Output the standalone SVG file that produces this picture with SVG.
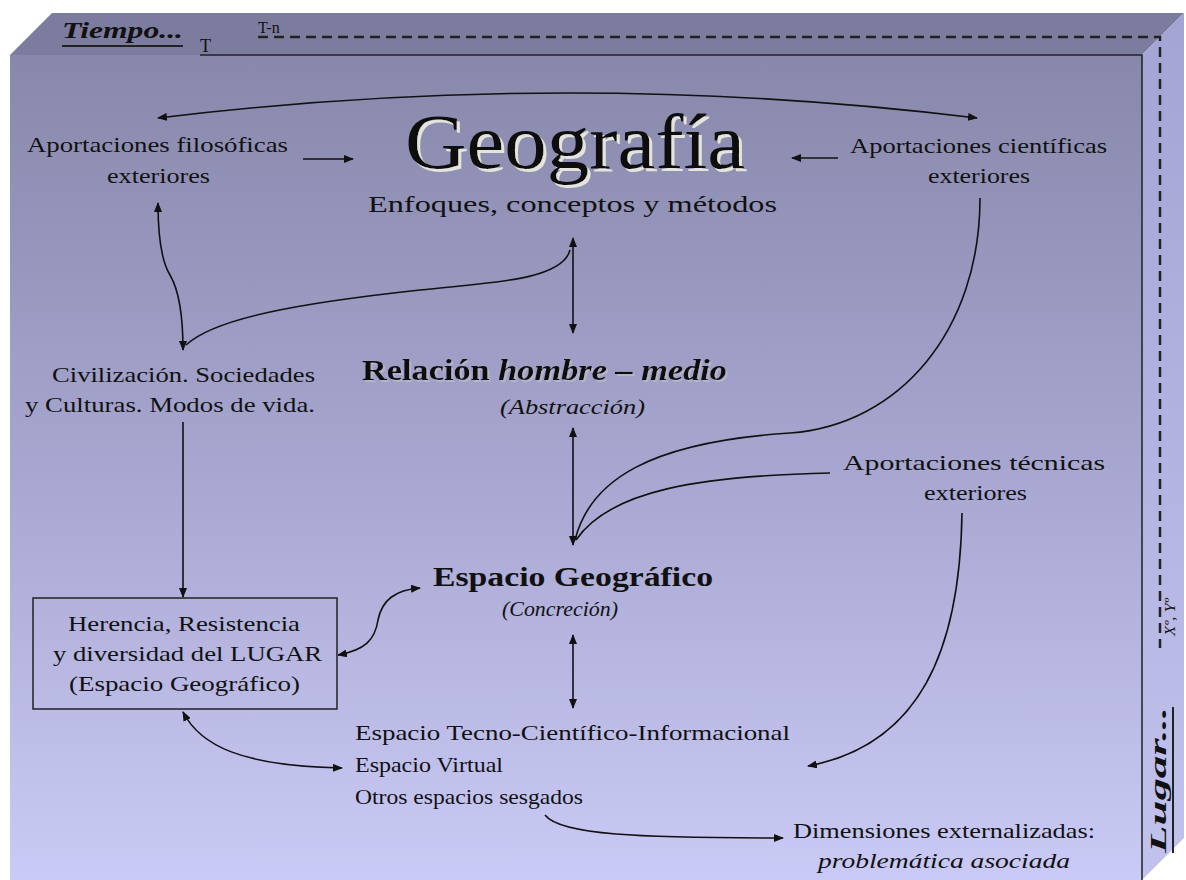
<svg xmlns="http://www.w3.org/2000/svg" width="1186" height="880" viewBox="0 0 1186 880">
<defs>
<linearGradient id="gFront" x1="0" y1="0" x2="0" y2="1">
<stop offset="0" stop-color="#8888ab"/>
<stop offset="0.5" stop-color="#a6a6d0"/>
<stop offset="1" stop-color="#cacaf6"/>
</linearGradient>
<linearGradient id="gRight" x1="0" y1="0" x2="0" y2="1">
<stop offset="0" stop-color="#a4a4d4"/>
<stop offset="1" stop-color="#c2c2ee"/>
</linearGradient>
<filter id="shLight" x="-5%" y="-20%" width="110%" height="140%">
<feOffset in="SourceAlpha" dx="2.5" dy="2.5" result="o"/>
<feFlood flood-color="#e4e4dc"/>
<feComposite in2="o" operator="in" result="s"/>
<feMerge><feMergeNode in="s"/><feMergeNode in="SourceGraphic"/></feMerge>
</filter>
<filter id="shGray" x="-5%" y="-20%" width="110%" height="140%">
<feOffset in="SourceAlpha" dx="2" dy="2" result="o"/>
<feFlood flood-color="#b4b4c8"/>
<feComposite in2="o" operator="in" result="s"/>
<feMerge><feMergeNode in="s"/><feMergeNode in="SourceGraphic"/></feMerge>
</filter>
<marker id="ah" viewBox="0 0 10 8" refX="9" refY="4" markerWidth="10" markerHeight="8" markerUnits="userSpaceOnUse" orient="auto-start-reverse">
<path d="M0,0 L10,4 L0,8 z" fill="#111"/>
</marker>
</defs>
<style>
.t{font-family:"Liberation Serif","Times New Roman",serif;fill:#111;}
.c{fill:none;stroke:#111;stroke-width:1.6;}
.b{marker-start:url(#ah);marker-end:url(#ah);}
.e{marker-end:url(#ah);}
</style>
<rect width="1186" height="880" fill="#ffffff"/>
<g id="box">
<polygon points="10,55 52,13 1184,13 1142,55" fill="#7c7c9e"/>
<rect x="10" y="55" width="1132" height="825" fill="url(#gFront)"/>
<polygon points="1142,55 1184,13 1184,838 1142,880" fill="url(#gRight)"/>
<polyline points="200,55 1142,55 1142,880" fill="none" stroke="#222" stroke-width="1.5"/>
<polyline points="258,37 1160,37 1160,648" fill="none" stroke="#222" stroke-width="2.5" stroke-dasharray="10,6"/>
</g>
<g id="axes">
<text class="t" x="62" y="38" font-size="24" font-weight="bold" font-style="italic" textLength="121" lengthAdjust="spacingAndGlyphs">Tiempo...</text>
<line x1="62" y1="46" x2="183" y2="46" stroke="#222" stroke-width="2"/>
<text class="t" x="200" y="52" font-size="18">T</text>
<text class="t" x="258" y="33" font-size="16">T-n</text>
<text class="t" transform="translate(1166,853) rotate(-90)" font-size="23" font-weight="bold" font-style="italic" textLength="146" lengthAdjust="spacingAndGlyphs">Lugar...</text>
<line x1="1173" y1="853" x2="1173" y2="707" stroke="#222" stroke-width="2"/>
<text class="t" transform="translate(1175,636) rotate(-90)" font-size="15" font-style="italic" textLength="38" lengthAdjust="spacingAndGlyphs">Xº, Yº</text>
</g>
<g id="connectors">
<path class="c b" d="M977,118 Q570,68 158,118"/>
<path class="c e" d="M303,159 L353,159"/>
<path class="c e" d="M838,158 L792,158"/>
<path class="c b" d="M158,203 C158,240 162,262 170,275 C180,292 183,320 183,350"/>
<path class="c" d="M570,250 C562,282 480,283 420,290 C300,303 215,318 186,345"/>
<path class="c b" d="M573,238 L573,333"/>
<path class="c b" d="M573,428 L573,545"/>
<path class="c" d="M980,198 C980,330 900,425 790,433 C650,442 590,480 575,540"/>
<path class="c" d="M830,473 C700,476 610,490 576,540"/>
<path class="c e" d="M962,513 C960,650 920,745 808,766"/>
<path class="c b" d="M338,655 C365,650 375,640 378,620 C382,600 395,590 420,588"/>
<path class="c e" d="M183,422 L183,597"/>
<path class="c b" d="M573,635 L573,708"/>
<path class="c b" d="M183,712 C200,745 240,766 342,768"/>
<path class="c e" d="M545,815 C560,835 640,838 783,838"/>
</g>
<g id="geografia">
<text class="t" x="405" y="168" font-size="78" textLength="340" lengthAdjust="spacingAndGlyphs" filter="url(#shLight)">Geografía</text>
<text class="t" x="368" y="212" font-size="23" textLength="409" lengthAdjust="spacingAndGlyphs">Enfoques, conceptos y métodos</text>
</g>
<g id="filosoficas">
<text class="t" x="27" y="152" font-size="21" textLength="261" lengthAdjust="spacingAndGlyphs">Aportaciones filosóficas</text>
<text class="t" x="107" y="183" font-size="21" textLength="103" lengthAdjust="spacingAndGlyphs">exteriores</text>
</g>
<g id="cientificas">
<text class="t" x="850" y="153" font-size="21" textLength="257" lengthAdjust="spacingAndGlyphs">Aportaciones científicas</text>
<text class="t" x="928" y="183" font-size="21" textLength="102" lengthAdjust="spacingAndGlyphs">exteriores</text>
</g>
<g id="civilizacion">
<text class="t" x="52" y="382" font-size="21" textLength="263" lengthAdjust="spacingAndGlyphs">Civilización. Sociedades</text>
<text class="t" x="25" y="412" font-size="21" textLength="290" lengthAdjust="spacingAndGlyphs">y Culturas. Modos de vida.</text>
</g>
<g id="relacion">
<text class="t" x="362" y="380" font-size="30" font-weight="bold" textLength="365" lengthAdjust="spacingAndGlyphs" filter="url(#shGray)">Relación <tspan font-style="italic">hombre – medio</tspan></text>
<text class="t" x="500" y="414" font-size="21" font-style="italic" textLength="145" lengthAdjust="spacingAndGlyphs">(Abstracción)</text>
</g>
<g id="tecnicas">
<text class="t" x="843" y="470" font-size="21" textLength="262" lengthAdjust="spacingAndGlyphs">Aportaciones técnicas</text>
<text class="t" x="924" y="500" font-size="21" textLength="103" lengthAdjust="spacingAndGlyphs">exteriores</text>
</g>
<g id="espacio">
<text class="t" x="433" y="586" font-size="28" font-weight="bold" textLength="280" lengthAdjust="spacingAndGlyphs">Espacio Geográfico</text>
<text class="t" x="502" y="616" font-size="21" font-style="italic" textLength="116" lengthAdjust="spacingAndGlyphs">(Concreción)</text>
</g>
<g id="herencia">
<rect x="33" y="598" width="304" height="111" fill="none" stroke="#222" stroke-width="1.5"/>
<text class="t" x="68" y="631" font-size="21" textLength="232" lengthAdjust="spacingAndGlyphs">Herencia, Resistencia</text>
<text class="t" x="53" y="661" font-size="21" textLength="269" lengthAdjust="spacingAndGlyphs">y diversidad del LUGAR</text>
<text class="t" x="69" y="691" font-size="21" textLength="231" lengthAdjust="spacingAndGlyphs">(Espacio Geográfico)</text>
</g>
<g id="espacios">
<text class="t" x="355" y="740" font-size="21" textLength="435" lengthAdjust="spacingAndGlyphs">Espacio Tecno-Científico-Informacional</text>
<text class="t" x="355" y="772" font-size="21" textLength="148" lengthAdjust="spacingAndGlyphs">Espacio Virtual</text>
<text class="t" x="355" y="804" font-size="21" textLength="228" lengthAdjust="spacingAndGlyphs">Otros espacios sesgados</text>
</g>
<g id="dimensiones">
<text class="t" x="793" y="838" font-size="21" textLength="302" lengthAdjust="spacingAndGlyphs">Dimensiones externalizadas:</text>
<text class="t" x="818" y="868" font-size="21" font-style="italic" textLength="252" lengthAdjust="spacingAndGlyphs">problemática asociada</text>
</g>
</svg>
